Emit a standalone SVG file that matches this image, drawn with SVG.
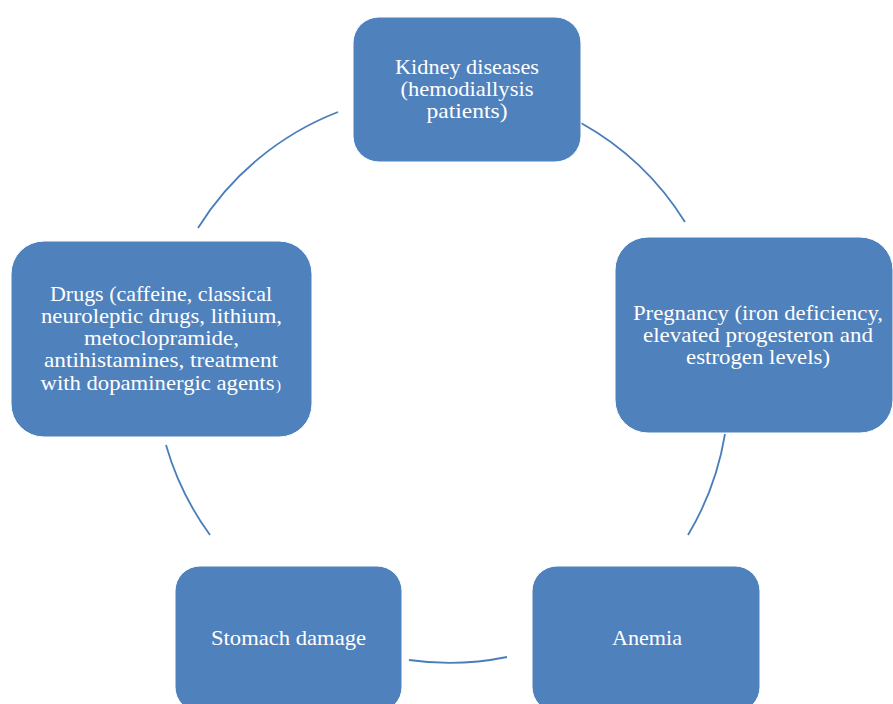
<svg xmlns="http://www.w3.org/2000/svg" width="893" height="704" viewBox="0 0 893 704">
<style>
.box{fill:#4f81bd;stroke:#ffffff;stroke-width:1}
.lbl{fill:#ffffff;font-family:"Liberation Serif","DejaVu Serif",serif;font-size:21px;text-anchor:middle}
.arc{fill:none;stroke:#4a7ebb;stroke-width:1.8}
</style>
<rect width="893" height="704" fill="#ffffff"/>
<g id="connectors">
<path class="arc" d="M581,123 A287,287 0 0 1 685,222"/>
<path class="arc" d="M725,434 A287,287 0 0 1 688,535"/>
<path class="arc" d="M507,657 A287,287 0 0 1 409,660"/>
<path class="arc" d="M210,535 A287,287 0 0 1 166,445"/>
<path class="arc" d="M198,228 A287,287 0 0 1 338,112"/>
</g>
<g id="kidney">
<rect class="box" x="353" y="17" width="228" height="145" rx="26"/>
<text class="lbl" x="467" y="74" textLength="144" lengthAdjust="spacingAndGlyphs">Kidney diseases</text>
<text class="lbl" x="467" y="96" textLength="133" lengthAdjust="spacingAndGlyphs">(hemodiallysis</text>
<text class="lbl" x="467" y="118" textLength="81" lengthAdjust="spacingAndGlyphs">patients)</text>
</g>
<g id="pregnancy">
<rect class="box" x="615" y="237" width="278" height="196" rx="33"/>
<text class="lbl" x="758" y="320" textLength="250" lengthAdjust="spacingAndGlyphs">Pregnancy (iron deficiency,</text>
<text class="lbl" x="758" y="342" textLength="230" lengthAdjust="spacingAndGlyphs">elevated progesteron and</text>
<text class="lbl" x="758" y="364" textLength="144" lengthAdjust="spacingAndGlyphs">estrogen levels)</text>
</g>
<g id="anemia">
<rect class="box" x="532" y="566" width="228" height="146" rx="25"/>
<text class="lbl" x="647" y="645" textLength="70" lengthAdjust="spacingAndGlyphs">Anemia</text>
</g>
<g id="stomach">
<rect class="box" x="175" y="566" width="227" height="146" rx="25"/>
<text class="lbl" x="288.5" y="645" textLength="155" lengthAdjust="spacingAndGlyphs">Stomach damage</text>
</g>
<g id="drugs">
<rect class="box" x="11" y="241" width="301" height="196" rx="33"/>
<text class="lbl" x="161" y="301" textLength="222" lengthAdjust="spacingAndGlyphs">Drugs (caffeine, classical</text>
<text class="lbl" x="161.5" y="323" textLength="241" lengthAdjust="spacingAndGlyphs">neuroleptic drugs, lithium,</text>
<text class="lbl" x="161.5" y="345" textLength="155" lengthAdjust="spacingAndGlyphs">metoclopramide,</text>
<text class="lbl" x="161" y="367" textLength="234" lengthAdjust="spacingAndGlyphs">antihistamines, treatment</text>
<text class="lbl" x="157.5" y="390" textLength="234" lengthAdjust="spacingAndGlyphs">with dopaminergic agents</text>
<text class="lbl" x="278.5" y="390" style="font-size:15px">)</text>
</g>
</svg>
